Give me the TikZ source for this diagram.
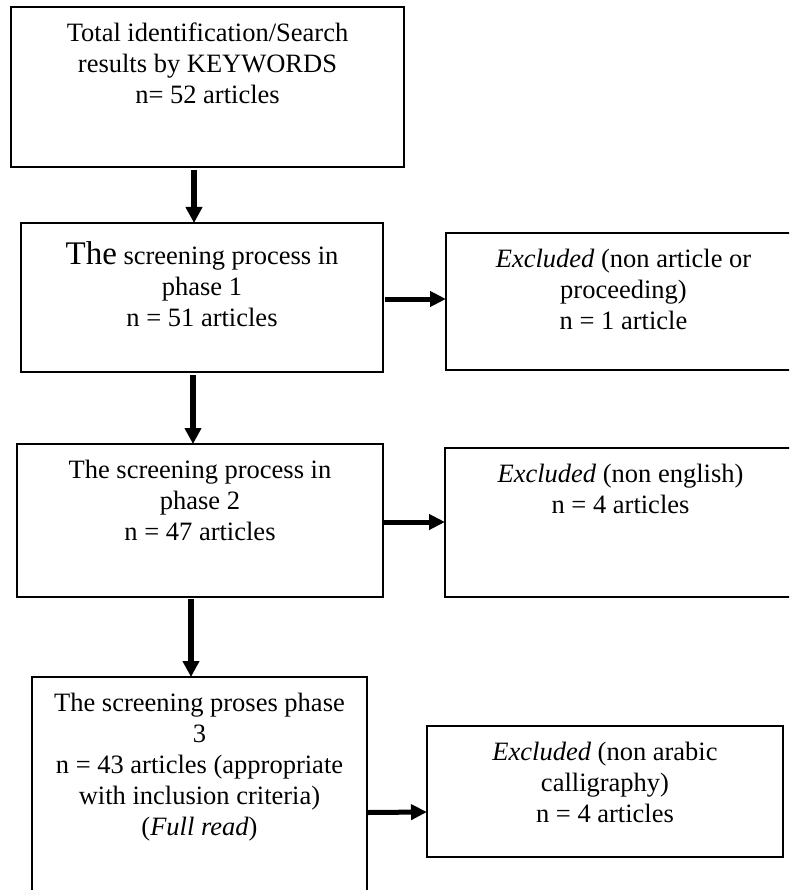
\documentclass[tikz,border=0pt]{standalone}
\usepackage{fontspec}
\setmainfont{Liberation Serif}
\usetikzlibrary{arrows.meta}
\newcommand{\boxtext}[3]{\parbox[t][#2][t]{#1}{\centering\rule{0pt}{34.5pt}#3}}

\begin{document}
\begin{tikzpicture}[
   x=1pt,y=-1pt,
   font={\fontsize{26.5}{31}\selectfont},
   box/.style={rectangle,draw=black,line width=1.6pt,anchor=north west,
               inner sep=0pt,outer sep=0pt},
   down/.style={-{Triangle[length=16pt,width=16pt]},line width=5.5pt},
   side/.style={-{Triangle[length=16pt,width=15pt]},line width=5pt}]
   \useasboundingbox (0,0) rectangle (789,890);
   \clip (0,0) rectangle (789,890);
   \node[box] (total)  at (11,7)    {\boxtext{393pt}{160pt}{Total identification/Search\\results by KEYWORDS\\n= 52 articles}};
   \node[box] (phase1) at (21,223)  {\boxtext{362pt}{149pt}{\rule{0pt}{42pt}{\fontsize{33}{31}\selectfont The} screening process in\\phase 1\\n = 51 articles}};
   \node[box] (excl1)  at (446,233) {\boxtext{355pt}{137pt}{\textit{Excluded} (non article or\\proceeding)\\n = 1 article}};
   \node[box] (phase2) at (17,444)  {\boxtext{366pt}{153pt}{The screening process in\\phase 2\\n = 47 articles}};
   \node[box] (excl2)  at (445,448) {\boxtext{351pt}{149pt}{\textit{Excluded} (non english)\\n = 4 articles}};
   \node[box] (phase3) at (32,677)  {\boxtext{335pt}{220pt}{The screening proses phase\\3\\n = 43 articles (appropriate\\with inclusion criteria)\\(\textit{Full read})}};
   \node[box] (excl3)  at (427,726) {\boxtext{356pt}{131pt}{\textit{Excluded} (non arabic\\calligraphy)\\n = 4 articles}};
   \draw[down] ([xshift=-13.5pt,yshift=-3pt]total.south) -- ([xshift=-8pt]phase1.north);
   \draw[down] ([xshift=-9pt,yshift=-3pt]phase1.south) -- ([xshift=-7pt]phase2.north);
   \draw[down] ([xshift=-9pt,yshift=-2pt]phase2.south) -- ([xshift=-8.5pt]phase3.north);
   \draw[side] ([xshift=2pt,yshift=-1.5pt]phase1.east) -- ([yshift=2.5pt]excl1.west);
   \draw[side] ([yshift=-1.5pt]phase2.east) -- ([yshift=0.5pt]excl2.west);
   \draw[side] ([xshift=1pt,yshift=-25.5pt]phase3.east) -- ([yshift=-20.5pt]excl3.west);
\end{tikzpicture}
\end{document}
